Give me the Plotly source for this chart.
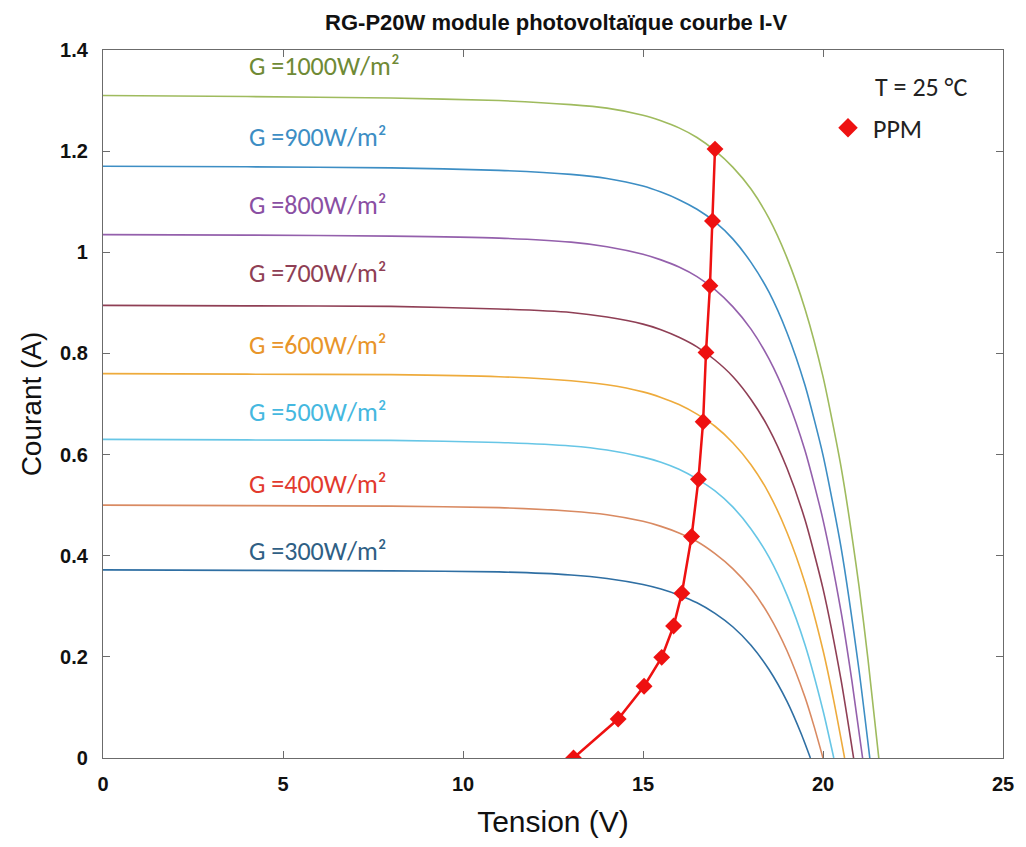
import plotly.graph_objects as go

# Irradiance levels (W/m²) and the I-V curves measured at T = 25 °C
irradiances = [1000, 900, 800, 700, 600, 500, 400, 300]

v_1000 = [0, 4, 8, 11, 13, 14, 15, 15.5, 16, 16.5, 17, 17.5, 18, 18.5, 19, 19.5, 20, 20.5, 21, 21.25, 21.55]
i_1000 = [1.310, 1.308, 1.305, 1.300, 1.292, 1.285, 1.271, 1.260, 1.246, 1.227, 1.201, 1.168, 1.125, 1.067,
          0.989, 0.888, 0.754, 0.576, 0.340, 0.195, 0.0]

v_900 = [0, 4, 8, 11, 13, 14, 15, 15.5, 16, 16.5, 17, 17.5, 18, 18.5, 19, 19.5, 20, 20.5, 21, 21.3]
i_900 = [1.170, 1.169, 1.167, 1.162, 1.154, 1.146, 1.131, 1.119, 1.104, 1.085, 1.060, 1.026, 0.980, 0.921,
         0.841, 0.737, 0.599, 0.417, 0.174, 0.0]

v_800 = [0, 4, 8, 11, 13, 14, 15, 15.5, 16, 16.5, 17, 17.5, 18, 18.5, 19, 19.5, 20, 20.5, 20.8, 21.1]
i_800 = [1.035, 1.034, 1.032, 1.028, 1.020, 1.011, 0.996, 0.985, 0.971, 0.952, 0.926, 0.892, 0.848, 0.789,
         0.711, 0.608, 0.471, 0.290, 0.154, 0.0]

v_700 = [0, 4, 8, 11, 13, 14, 15, 15.5, 16, 16.5, 17, 17.5, 18, 18.5, 19, 19.5, 20, 20.5, 20.85]
i_700 = [0.895, 0.894, 0.893, 0.888, 0.881, 0.872, 0.858, 0.847, 0.832, 0.813, 0.787, 0.754, 0.709, 0.651,
         0.573, 0.471, 0.335, 0.155, 0.0]

v_600 = [0, 4, 8, 11, 13, 14, 15, 15.5, 16, 16.5, 17, 17.5, 18, 18.5, 19, 19.5, 20, 20.3, 20.6]
i_600 = [0.760, 0.759, 0.758, 0.754, 0.746, 0.738, 0.724, 0.713, 0.699, 0.680, 0.656, 0.623, 0.580, 0.523,
         0.446, 0.346, 0.213, 0.113, 0.0]

v_500 = [0, 4, 8, 11, 13, 14, 15, 15.5, 16, 16.5, 17, 17.5, 18, 18.5, 19, 19.5, 20, 20.3]
i_500 = [0.630, 0.629, 0.628, 0.624, 0.617, 0.609, 0.595, 0.585, 0.571, 0.552, 0.528, 0.496, 0.453, 0.397,
         0.322, 0.224, 0.094, 0.0]

v_400 = [0, 4, 8, 11, 13, 14, 15, 15.5, 16, 16.5, 17, 17.5, 18, 18.5, 19, 19.5, 19.75, 20]
i_400 = [0.500, 0.499, 0.498, 0.495, 0.488, 0.481, 0.468, 0.458, 0.445, 0.428, 0.404, 0.374, 0.335, 0.282,
         0.212, 0.120, 0.063, 0.0]

v_300 = [0, 4, 8, 11, 13, 14, 15, 15.5, 16, 16.5, 17, 17.5, 18, 18.5, 19, 19.4, 19.65]
i_300 = [0.372, 0.371, 0.370, 0.368, 0.362, 0.355, 0.343, 0.334, 0.322, 0.307, 0.286, 0.259, 0.223, 0.175,
         0.112, 0.047, 0.0]

# Maximum power points (PPM)
ppm_v = [13.07, 14.31, 15.03, 15.52, 15.85, 16.08, 16.35, 16.54, 16.67, 16.75, 16.86, 16.93, 17.00]
ppm_i = [0.0, 0.077, 0.142, 0.199, 0.261, 0.326, 0.438, 0.551, 0.665, 0.802, 0.934, 1.062, 1.204]

curves_v = [v_1000, v_900, v_800, v_700, v_600, v_500, v_400, v_300]
curves_i = [i_1000, i_900, i_800, i_700, i_600, i_500, i_400, i_300]
curve_colors = ["#9fbb5e", "#3d8ec4", "#9460ac", "#8f3f55", "#eeab3c", "#67c6e6", "#d98a62", "#2f6fa3"]
label_colors = ["#6f8a35", "#3d8ec4", "#8a4fa3", "#8f3f55", "#e8952a", "#45b8e0", "#e23a2e", "#2f5f85"]
label_y = [1.368, 1.228, 1.094, 0.959, 0.817, 0.684, 0.542, 0.409]

label_font = "Carlito, Lato, Open Sans, sans-serif"

fig = go.Figure()

for g, vv, ii, col in zip(irradiances, curves_v, curves_i, curve_colors):
    fig.add_trace(go.Scatter(
        x=vv, y=ii, mode="lines", name=f"G = {g} W/m²",
        line=dict(color=col, width=1.6, shape="spline", smoothing=0.6),
        showlegend=False, hoverinfo="x+y",
    ))

fig.add_trace(go.Scatter(
    x=ppm_v, y=ppm_i, mode="lines+markers", name="PPM",
    line=dict(color="#ee1111", width=2.5),
    marker=dict(symbol="diamond", size=13, color="#ee1111"),
    showlegend=False,
))
# legend entry showing only the diamond marker
fig.add_trace(go.Scatter(
    x=[None], y=[None], mode="markers", name="PPM",
    marker=dict(symbol="diamond", size=15, color="#ee1111"),
    showlegend=True,
))

for g, ly, lc in zip(irradiances, label_y, label_colors):
    fig.add_annotation(
        x=4.0, y=ly, xref="x", yref="y", xanchor="left", yanchor="middle",
        text=f"G ={g}W/m²", showarrow=False,
        font=dict(family=label_font, size=26, color=lc),
    )

fig.add_annotation(
    x=0.855, y=0.948, xref="paper", yref="paper", xanchor="left", yanchor="middle",
    text="T = 25 °C", showarrow=False,
    font=dict(family=label_font, size=26, color="#222222"),
)

axis_common = dict(
    showline=True, linecolor="#6b6b6b", linewidth=1.2, mirror="allticks",
    ticks="inside", ticklen=7, tickwidth=1.2, tickcolor="#6b6b6b",
    showgrid=False, zeroline=False,
    tickfont=dict(family="Liberation Sans, Arial, sans-serif", size=20, color="#111111", weight="bold"),
)

fig.update_xaxes(
    range=[0, 25], tickvals=[0, 5, 10, 15, 20, 25], ticklabelstandoff=8,
    title=dict(text="Tension (V)", standoff=16,
               font=dict(family="Liberation Sans, Arial, sans-serif", size=30, color="#111111")),
    **axis_common,
)
fig.update_yaxes(
    range=[0, 1.4], tickvals=[0, 0.2, 0.4, 0.6, 0.8, 1.0, 1.2, 1.4],
    ticktext=["0", "0.2", "0.4", "0.6", "0.8", "1", "1.2", "1.4"], ticklabelstandoff=10,
    title=dict(text="Courant (A)", standoff=10,
               font=dict(family="Liberation Sans, Arial, sans-serif", size=28, color="#111111")),
    **axis_common,
)

fig.update_layout(
    width=1026, height=847,
    margin=dict(l=103, r=21, t=50, b=89),
    paper_bgcolor="white", plot_bgcolor="white",
    title=dict(
        text="<b>RG-P20W module photovoltaïque courbe I-V</b>",
        x=0.542, xanchor="center", y=0.974, yanchor="middle",
        font=dict(family="Liberation Sans, Arial, sans-serif", size=22, color="#111111"),
    ),
    legend=dict(
        x=0.80, y=0.89, xanchor="left", yanchor="middle",
        bgcolor="rgba(0,0,0,0)", borderwidth=0,
        font=dict(family=label_font, size=26, color="#222222"),
        itemwidth=40,
    ),
)

fig.write_html("out.html")
